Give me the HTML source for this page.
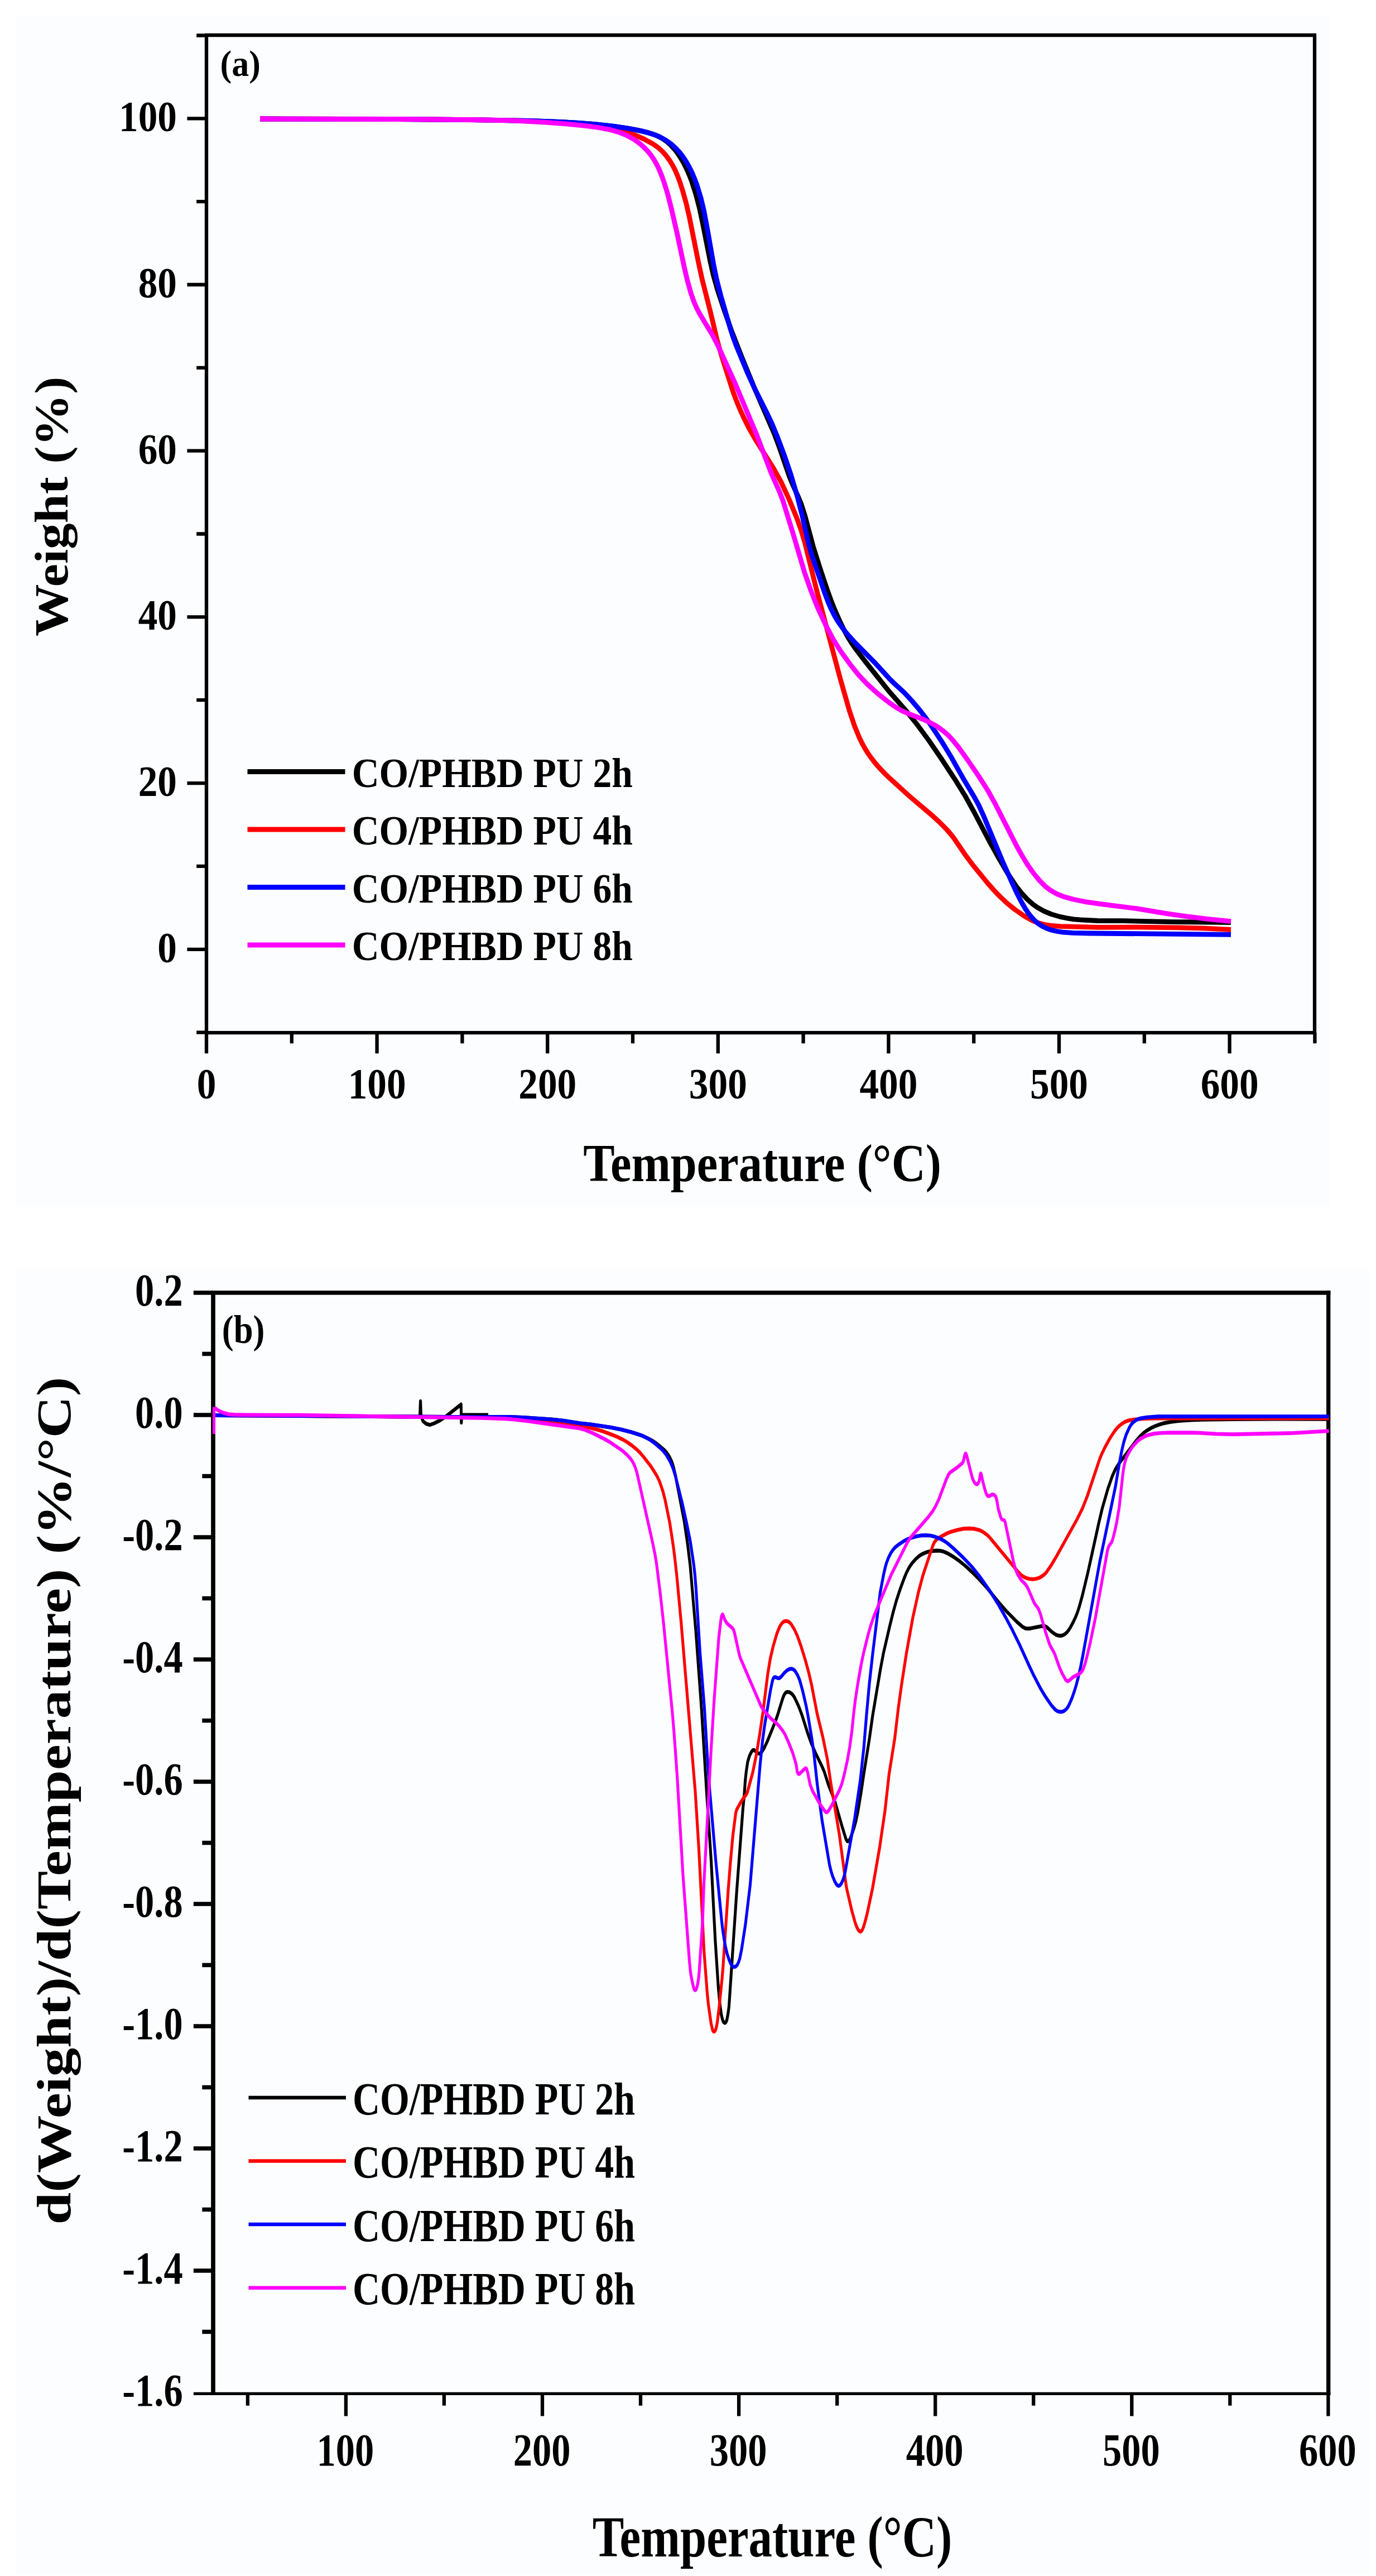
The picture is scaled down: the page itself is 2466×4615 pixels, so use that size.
<!DOCTYPE html>
<html><head><meta charset="utf-8"><title>TGA and DTG curves</title>
<style>
html,body{margin:0;padding:0;background:#ffffff;}
body{width:2466px;height:4615px;overflow:hidden;}
svg{display:block;}
svg text{font-family:"Liberation Serif", serif;font-weight:bold;font-size:100px;fill:#000;}
.ax{stroke:#000;fill:none;stroke-linecap:butt;}
.cv{fill:none;stroke-linejoin:round;stroke-linecap:butt;}
</style></head><body>
<svg width="2466" height="4615" viewBox="0 0 2466 4615">
<rect x="28" y="28" width="2356" height="2134" fill="#fcfdfe"/>
<rect x="28" y="2273" width="2427" height="2339" fill="#fcfdfe"/>
<g class="ax" stroke-width="6.3">
<path d="M370.0,59.85 V1853.3500000000001 M2356.0,59.85 V1853.3500000000001 M366.85,63.0 H2359.15 M366.85,1850.2 H2359.15"/>
<path d="M370.0,1850.2 v37 M522.8,1850.2 v19 M675.6,1850.2 v37 M828.4,1850.2 v19 M981.2,1850.2 v37 M1134.0,1850.2 v19 M1286.8,1850.2 v37 M1439.6,1850.2 v19 M1592.4,1850.2 v37 M1745.2,1850.2 v19 M1898.0,1850.2 v37 M2050.8,1850.2 v19 M2203.6,1850.2 v37 M2356.4,1850.2 v19 M370.0,63.5 h-17.8 M370.0,212.3 h-34.6 M370.0,361.1 h-17.8 M370.0,510.0 h-34.6 M370.0,658.8 h-17.8 M370.0,807.7 h-34.6 M370.0,956.5 h-17.8 M370.0,1105.4 h-34.6 M370.0,1254.2 h-17.8 M370.0,1403.1 h-34.6 M370.0,1551.9 h-17.8 M370.0,1700.8 h-34.6 M370.0,1849.6 h-17.8"/>
</g>
<text transform="translate(370.0,1968.0) scale(0.6930,0.7900)" text-anchor="middle">0</text>
<text transform="translate(675.6,1968.0) scale(0.6930,0.7900)" text-anchor="middle">100</text>
<text transform="translate(981.2,1968.0) scale(0.6930,0.7900)" text-anchor="middle">200</text>
<text transform="translate(1286.8,1968.0) scale(0.6930,0.7900)" text-anchor="middle">300</text>
<text transform="translate(1592.4,1968.0) scale(0.6930,0.7900)" text-anchor="middle">400</text>
<text transform="translate(1898.0,1968.0) scale(0.6930,0.7900)" text-anchor="middle">500</text>
<text transform="translate(2203.6,1968.0) scale(0.6930,0.7900)" text-anchor="middle">600</text>
<text transform="translate(317.0,235.3) scale(0.6930,0.7900)" text-anchor="end">100</text>
<text transform="translate(317.0,533.0) scale(0.6930,0.7900)" text-anchor="end">80</text>
<text transform="translate(317.0,830.7) scale(0.6930,0.7900)" text-anchor="end">60</text>
<text transform="translate(317.0,1128.4) scale(0.6930,0.7900)" text-anchor="end">40</text>
<text transform="translate(317.0,1426.1) scale(0.6930,0.7900)" text-anchor="end">20</text>
<text transform="translate(317.0,1723.8) scale(0.6930,0.7900)" text-anchor="end">0</text>
<text transform="translate(394.5,135.8) scale(0.6200,0.6550)" text-anchor="start">(a)</text>
<text transform="translate(1045.3,2115.5) scale(0.8450,0.9500)" text-anchor="start">Temperature (°C)</text>
<text transform="translate(120.6,1140.0) rotate(-90) scale(0.9360,0.8460)" text-anchor="start">Weight (%)</text>
<g transform="scale(1,1.0)">
<path class="cv" stroke="#000000" stroke-width="8.8" d="M466.0,213.0 L711.0,213.5 L842.0,214.6 L945.0,216.4 L990.0,217.9 L1029.9,219.8 L1060.9,222.1 L1094.7,225.6 L1121.4,229.4 L1146.0,233.9 L1162.5,237.9 L1175.6,242.4 L1187.0,248.2 L1196.7,255.0 L1202.5,260.4 L1208.5,266.9 L1214.6,274.8 L1220.0,283.1 L1225.5,292.6 L1230.4,302.4 L1235.3,313.4 L1239.6,324.6 L1246.9,347.4 L1253.7,373.5 L1259.7,401.9 L1273.1,469.6 L1278.7,493.9 L1285.5,518.0 L1298.4,556.9 L1311.0,592.7 L1328.8,638.4 L1352.7,696.7 L1387.4,776.5 L1396.5,800.8 L1415.1,854.7 L1420.4,867.6 L1431.1,891.3 L1435.6,902.4 L1442.6,924.2 L1457.9,981.2 L1470.0,1019.3 L1481.7,1054.4 L1489.1,1075.1 L1496.9,1094.6 L1505.9,1114.7 L1513.3,1130.0 L1520.0,1142.2 L1526.9,1153.2 L1535.6,1165.4 L1550.2,1184.5 L1593.8,1239.2 L1622.8,1272.2 L1641.1,1294.7 L1664.3,1326.0 L1686.9,1359.0 L1711.1,1395.8 L1729.0,1424.7 L1744.1,1451.8 L1772.4,1505.8 L1789.9,1537.3 L1806.6,1565.7 L1820.9,1587.4 L1830.8,1599.9 L1840.9,1610.9 L1850.5,1619.6 L1860.2,1626.4 L1871.5,1632.6 L1884.4,1637.9 L1898.7,1642.1 L1913.3,1645.2 L1924.2,1646.8 L1936.1,1647.9 L1967.1,1649.5 L2012.0,1649.6 L2101.0,1651.7 L2206.0,1652.5"/>
<path class="cv" stroke="#ff0000" stroke-width="8.8" d="M466.0,213.0 L724.1,213.6 L867.1,214.9 L910.1,215.7 L942.1,216.7 L978.0,218.4 L1014.0,220.7 L1039.9,223.0 L1063.7,226.1 L1102.1,232.4 L1121.6,236.7 L1137.7,241.9 L1154.2,249.1 L1169.0,257.2 L1175.6,261.6 L1181.1,265.8 L1187.6,271.9 L1194.2,279.3 L1200.0,287.3 L1205.2,295.8 L1210.2,305.6 L1214.5,315.6 L1219.0,327.8 L1223.3,341.1 L1229.5,363.3 L1235.4,388.6 L1251.3,468.0 L1258.3,500.3 L1273.3,559.4 L1284.6,607.1 L1293.0,636.9 L1313.7,701.7 L1319.6,717.6 L1326.5,734.3 L1334.0,750.6 L1342.1,766.7 L1355.0,789.2 L1386.9,840.1 L1399.9,863.7 L1414.6,895.5 L1428.6,929.7 L1435.9,950.4 L1442.2,971.5 L1463.2,1056.0 L1505.7,1215.4 L1522.2,1273.1 L1531.5,1300.6 L1540.2,1321.8 L1545.0,1331.7 L1549.8,1340.4 L1555.1,1348.9 L1560.8,1357.1 L1567.5,1365.8 L1575.3,1374.9 L1584.2,1384.3 L1594.2,1394.1 L1630.5,1427.0 L1671.7,1461.9 L1685.6,1474.8 L1696.1,1485.5 L1702.7,1493.0 L1708.9,1500.8 L1730.9,1532.9 L1744.8,1551.3 L1770.7,1583.0 L1781.4,1595.0 L1791.0,1605.1 L1804.8,1618.1 L1819.6,1630.0 L1836.0,1641.3 L1849.9,1649.1 L1860.9,1653.6 L1872.4,1656.6 L1885.1,1658.5 L1901.1,1659.6 L1968.0,1661.3 L2043.0,1661.1 L2110.1,1661.8 L2159.0,1663.2 L2206.0,1665.5"/>
<path class="cv" stroke="#0000ff" stroke-width="8.8" d="M466.0,213.0 L714.1,213.6 L850.1,214.7 L950.1,216.5 L996.1,218.2 L1035.1,220.1 L1067.0,222.6 L1100.8,226.4 L1127.5,230.4 L1151.0,235.0 L1167.4,239.4 L1181.3,244.7 L1192.7,250.8 L1203.9,258.9 L1210.5,264.9 L1217.3,272.2 L1223.4,280.0 L1229.5,289.1 L1234.9,298.6 L1239.8,308.4 L1244.5,319.5 L1249.0,331.6 L1256.0,354.6 L1261.6,377.9 L1268.4,414.3 L1279.1,475.4 L1284.6,501.8 L1292.1,530.9 L1309.7,591.4 L1314.4,605.6 L1320.0,620.6 L1338.7,665.9 L1351.9,695.0 L1375.2,741.5 L1383.3,758.7 L1392.5,780.9 L1405.5,815.5 L1417.7,851.5 L1428.8,888.9 L1438.0,924.8 L1448.9,973.6 L1453.7,990.9 L1478.5,1063.8 L1483.8,1077.8 L1488.9,1089.8 L1495.2,1102.2 L1501.8,1113.4 L1509.2,1124.1 L1517.8,1135.1 L1533.8,1152.9 L1569.7,1189.2 L1593.9,1215.8 L1601.7,1223.5 L1620.7,1241.1 L1633.7,1254.9 L1647.9,1271.7 L1659.0,1285.9 L1668.7,1299.8 L1687.5,1328.1 L1704.7,1356.3 L1727.8,1397.3 L1746.7,1429.0 L1753.8,1442.2 L1763.0,1462.2 L1798.4,1547.1 L1814.8,1583.6 L1822.8,1600.8 L1829.6,1614.2 L1836.0,1625.5 L1842.0,1634.7 L1848.0,1642.5 L1854.8,1649.7 L1861.6,1655.3 L1868.2,1659.6 L1876.1,1663.4 L1884.5,1666.3 L1894.2,1668.5 L1905.0,1670.1 L1922.9,1671.3 L1951.9,1672.0 L2206.0,1674.3"/>
<path class="cv" stroke="#ff00ff" stroke-width="8.8" d="M466.0,213.0 L710.1,213.5 L838.1,214.5 L916.1,215.9 L977.1,219.1 L1014.0,221.9 L1046.8,225.1 L1072.6,228.5 L1092.2,232.1 L1108.5,236.7 L1122.4,242.2 L1135.5,249.3 L1147.6,258.0 L1154.2,264.0 L1160.4,270.4 L1166.1,277.3 L1171.7,285.5 L1176.7,294.1 L1181.1,303.0 L1185.3,313.2 L1189.4,324.4 L1196.8,348.3 L1203.9,376.4 L1213.3,417.4 L1226.8,481.0 L1231.6,501.4 L1238.0,524.5 L1244.0,541.5 L1248.4,551.5 L1253.4,561.3 L1276.6,599.8 L1287.6,621.1 L1317.8,687.6 L1356.8,780.8 L1382.7,849.0 L1397.7,882.8 L1402.7,895.8 L1421.3,956.0 L1441.7,1025.1 L1453.6,1059.1 L1465.5,1088.8 L1480.6,1121.4 L1493.2,1145.3 L1506.5,1166.5 L1524.0,1190.8 L1539.0,1209.5 L1554.1,1225.5 L1572.6,1242.3 L1593.0,1258.4 L1606.9,1268.0 L1618.2,1274.3 L1628.2,1278.7 L1656.1,1289.4 L1666.1,1294.1 L1675.7,1299.3 L1684.0,1304.7 L1692.0,1310.7 L1699.4,1317.3 L1706.9,1325.2 L1718.2,1339.2 L1735.0,1362.8 L1755.3,1392.6 L1770.3,1416.2 L1783.9,1440.7 L1821.5,1514.7 L1832.2,1533.9 L1841.6,1549.3 L1852.5,1564.8 L1863.3,1577.9 L1873.1,1587.7 L1882.5,1594.9 L1893.6,1601.3 L1907.4,1606.8 L1923.8,1611.3 L1943.4,1615.3 L1971.1,1619.4 L2036.6,1627.7 L2091.8,1636.8 L2119.5,1640.8 L2163.2,1646.3 L2206.0,1650.7"/>
</g>
<path class="cv" stroke="#000000" stroke-width="9.0" d="M443.5,1382.6 H618.5"/>
<text transform="translate(630.7,1409.6) scale(0.6760,0.7500)" text-anchor="start">CO/PHBD PU 2h</text>
<path class="cv" stroke="#ff0000" stroke-width="9.0" d="M443.5,1486.0 H618.5"/>
<text transform="translate(630.7,1513.0) scale(0.6760,0.7500)" text-anchor="start">CO/PHBD PU 4h</text>
<path class="cv" stroke="#0000ff" stroke-width="9.0" d="M443.5,1589.5 H618.5"/>
<text transform="translate(630.7,1616.5) scale(0.6760,0.7500)" text-anchor="start">CO/PHBD PU 6h</text>
<path class="cv" stroke="#ff00ff" stroke-width="9.0" d="M443.5,1693.0 H618.5"/>
<text transform="translate(630.7,1720.0) scale(0.6760,0.7500)" text-anchor="start">CO/PHBD PU 8h</text>
<g class="ax" stroke-width="7.7">
<path d="M382.0,2312.15 V4290.900000000001 M378.15,2316.0 H2384.35"/>
<path d="M382.0,2316.0 h-35.2 M382.0,2425.5 h-19.7 M382.0,2535.0 h-35.2 M382.0,2644.5 h-19.7 M382.0,2754.0 h-35.2 M382.0,2863.5 h-19.7 M382.0,2973.0 h-35.2 M382.0,3082.5 h-19.7 M382.0,3192.0 h-35.2 M382.0,3301.5 h-19.7 M382.0,3411.0 h-35.2 M382.0,3520.5 h-19.7 M382.0,3630.0 h-35.2 M382.0,3739.5 h-19.7 M382.0,3849.0 h-35.2 M382.0,3958.5 h-19.7 M382.0,4068.0 h-35.2 M382.0,4177.5 h-19.7"/>
</g>
<path class="ax" stroke-width="7.3" d="M2380.7,2312.15 V4290.900000000001"/>
<path class="ax" stroke-width="5.2" d="M346.8,4288.3 H2384.35"/>
<path class="ax" stroke-width="6.3" d="M443.9,4288.3 V4309.7 M619.9,4288.3 V4328.4 M795.9,4288.3 V4309.7 M972.0,4288.3 V4328.4 M1148.0,4288.3 V4309.7 M1324.1,4288.3 V4328.4 M1500.2,4288.3 V4309.7 M1676.2,4288.3 V4328.4 M1852.2,4288.3 V4309.7 M2028.3,4288.3 V4328.4 M2204.3,4288.3 V4309.7 M2380.4,4288.3 V4328.4"/>
<text transform="translate(618.9,4417.0) scale(0.6850,0.8350)" text-anchor="middle">100</text>
<text transform="translate(971.0,4417.0) scale(0.6850,0.8350)" text-anchor="middle">200</text>
<text transform="translate(1323.1,4417.0) scale(0.6850,0.8350)" text-anchor="middle">300</text>
<text transform="translate(1675.2,4417.0) scale(0.6850,0.8350)" text-anchor="middle">400</text>
<text transform="translate(2027.3,4417.0) scale(0.6850,0.8350)" text-anchor="middle">500</text>
<text transform="translate(2379.4,4417.0) scale(0.6850,0.8350)" text-anchor="middle">600</text>
<text transform="translate(327.7,2339.0) scale(0.6850,0.8350)" text-anchor="end">0.2</text>
<text transform="translate(327.7,2558.0) scale(0.6850,0.8350)" text-anchor="end">0.0</text>
<text transform="translate(327.7,2777.0) scale(0.6850,0.8350)" text-anchor="end">-0.2</text>
<text transform="translate(327.7,2996.0) scale(0.6850,0.8350)" text-anchor="end">-0.4</text>
<text transform="translate(327.7,3215.0) scale(0.6850,0.8350)" text-anchor="end">-0.6</text>
<text transform="translate(327.7,3434.0) scale(0.6850,0.8350)" text-anchor="end">-0.8</text>
<text transform="translate(327.7,3653.0) scale(0.6850,0.8350)" text-anchor="end">-1.0</text>
<text transform="translate(327.7,3872.0) scale(0.6850,0.8350)" text-anchor="end">-1.2</text>
<text transform="translate(327.7,4091.0) scale(0.6850,0.8350)" text-anchor="end">-1.4</text>
<text transform="translate(327.7,4310.0) scale(0.6850,0.8350)" text-anchor="end">-1.6</text>
<text transform="translate(397.8,2405.7) scale(0.6270,0.7270)" text-anchor="start">(b)</text>
<text transform="translate(1061.8,4580.0) scale(0.8490,1.0350)" text-anchor="start">Temperature (°C)</text>
<text transform="translate(126.0,3985.5) rotate(-90) scale(1.0370,0.8770)" text-anchor="start">d(Weight)/d(Temperature) (%/°C)</text>
<g transform="scale(1,1.35)">
<path class="cv" stroke="#000000" stroke-width="5.1" d="M384.0,1878.1 L846.1,1880.6 L911.1,1880.3 L937.0,1881.0 L988.9,1883.7 L1008.8,1885.3 L1039.5,1888.8 L1058.3,1890.3 L1094.9,1894.3 L1114.5,1897.3 L1133.9,1901.0 L1150.0,1905.0 L1160.9,1908.7 L1168.8,1911.8 L1174.7,1914.7 L1181.8,1918.8 L1189.4,1923.6 L1194.3,1927.3 L1199.8,1933.4 L1204.1,1940.1 L1207.1,1947.2 L1210.7,1958.7 L1226.0,2017.6 L1232.3,2049.1 L1237.0,2077.8 L1247.3,2167.1 L1257.4,2269.9 L1267.1,2386.7 L1274.4,2468.0 L1281.8,2574.5 L1287.5,2638.9 L1290.1,2659.5 L1292.7,2673.4 L1294.2,2678.5 L1295.7,2682.0 L1297.1,2683.7 L1298.8,2684.5 L1300.0,2684.2 L1301.1,2683.4 L1302.8,2680.1 L1304.8,2672.1 L1306.4,2663.3 L1320.4,2508.8 L1331.5,2399.5 L1333.6,2384.0 L1335.6,2363.3 L1337.4,2350.8 L1339.9,2338.3 L1343.3,2329.8 L1346.9,2324.6 L1348.6,2323.0 L1349.9,2322.4 L1351.9,2322.6 L1357.5,2326.3 L1359.9,2327.1 L1361.5,2327.0 L1363.0,2326.4 L1366.2,2323.7 L1370.2,2318.7 L1374.9,2311.3 L1388.8,2285.9 L1393.5,2276.1 L1402.3,2254.9 L1405.1,2249.3 L1407.9,2246.4 L1409.4,2245.7 L1411.1,2245.3 L1414.8,2245.7 L1418.8,2247.6 L1421.5,2249.8 L1424.1,2252.9 L1431.3,2264.3 L1437.3,2276.1 L1447.2,2299.4 L1454.3,2314.0 L1461.0,2325.6 L1472.8,2343.6 L1477.2,2351.1 L1485.0,2369.4 L1492.2,2382.5 L1496.8,2392.2 L1509.0,2423.6 L1515.8,2439.8 L1516.9,2441.8 L1518.4,2443.3 L1519.5,2443.6 L1521.3,2442.9 L1522.8,2441.2 L1524.8,2437.9 L1530.4,2426.0 L1533.6,2417.4 L1537.2,2405.1 L1543.1,2378.8 L1547.8,2355.4 L1557.7,2309.3 L1564.0,2276.3 L1578.1,2214.1 L1583.1,2194.5 L1594.4,2158.4 L1600.6,2139.7 L1606.5,2124.0 L1612.4,2110.6 L1620.3,2094.6 L1624.9,2086.4 L1629.5,2079.9 L1634.6,2074.4 L1641.3,2068.9 L1647.2,2064.9 L1653.1,2062.2 L1660.5,2059.9 L1668.2,2058.5 L1677.2,2057.8 L1685.1,2058.0 L1691.0,2059.0 L1698.3,2061.4 L1709.4,2066.3 L1720.0,2071.9 L1731.5,2079.0 L1744.7,2088.1 L1756.6,2097.1 L1768.0,2106.5 L1792.0,2128.3 L1804.5,2138.9 L1822.8,2152.6 L1832.6,2158.9 L1837.8,2160.9 L1842.7,2161.3 L1847.6,2160.9 L1866.2,2158.1 L1872.1,2158.0 L1873.9,2158.4 L1876.4,2159.5 L1885.0,2165.6 L1892.3,2169.4 L1896.0,2170.4 L1898.9,2170.7 L1901.8,2170.7 L1904.7,2170.1 L1908.1,2168.8 L1911.8,2166.4 L1915.0,2163.5 L1918.2,2159.7 L1923.0,2153.2 L1927.2,2146.6 L1930.6,2140.4 L1933.8,2133.3 L1939.7,2117.6 L1949.7,2086.7 L1969.3,2020.8 L1975.5,2001.4 L1985.2,1976.4 L1993.0,1959.7 L1998.7,1950.2 L2004.4,1943.2 L2035.1,1913.1 L2042.9,1906.3 L2049.4,1901.7 L2055.9,1898.2 L2063.6,1894.8 L2069.9,1892.6 L2079.3,1890.1 L2087.0,1888.5 L2096.8,1887.1 L2107.7,1885.9 L2118.7,1885.2 L2134.6,1884.4 L2153.6,1884.0 L2209.6,1883.3 L2291.6,1883.0 L2381.7,1883.1"/>
<path class="cv" stroke="#000" stroke-width="5.1" d="M752.5,1878.9 L753.6,1859.6 L754.5,1878.5 L758.0,1885.9 L764.0,1889.6 L770.3,1890.9 L778.0,1888.9 L788.0,1885.2 L800.0,1879.3 L826.3,1863.7 L826.8,1887.9 L827.5,1877.8 L875.0,1877.8"/>
<path class="cv" stroke="#ff0000" stroke-width="5.1" d="M384.0,1878.1 L898.0,1881.0 L926.0,1881.4 L951.0,1882.8 L987.7,1885.8 L1020.4,1889.4 L1058.6,1894.9 L1070.2,1897.2 L1081.7,1899.8 L1094.9,1903.4 L1106.9,1907.1 L1115.9,1910.3 L1123.6,1913.6 L1131.8,1917.9 L1141.1,1923.5 L1146.8,1927.7 L1153.3,1933.3 L1166.2,1945.6 L1176.9,1958.1 L1181.7,1965.4 L1187.9,1978.7 L1191.9,1990.2 L1200.4,2021.4 L1206.3,2050.0 L1208.9,2064.7 L1213.0,2091.9 L1220.8,2153.9 L1246.0,2377.5 L1252.4,2452.9 L1261.8,2589.8 L1267.3,2643.7 L1269.5,2660.0 L1274.4,2685.6 L1276.9,2693.5 L1278.0,2695.3 L1279.5,2696.2 L1281.1,2695.6 L1282.7,2693.3 L1284.2,2689.0 L1285.6,2683.2 L1289.0,2662.6 L1294.1,2625.0 L1296.0,2608.0 L1305.0,2509.0 L1309.2,2469.8 L1313.4,2435.9 L1318.6,2405.8 L1320.2,2401.6 L1327.8,2391.3 L1332.2,2386.4 L1337.2,2381.9 L1339.1,2379.3 L1349.0,2352.2 L1355.4,2329.0 L1361.6,2301.2 L1367.4,2271.9 L1376.0,2221.1 L1380.4,2201.4 L1385.6,2184.8 L1392.3,2167.8 L1397.2,2158.9 L1399.8,2155.7 L1402.3,2153.4 L1404.5,2152.1 L1407.1,2151.3 L1409.9,2151.3 L1412.7,2152.0 L1415.1,2153.2 L1417.8,2155.3 L1423.6,2162.2 L1429.0,2170.9 L1435.4,2184.2 L1443.1,2202.6 L1449.4,2219.7 L1454.4,2235.6 L1464.4,2274.2 L1474.8,2305.8 L1482.8,2334.9 L1489.4,2368.6 L1504.2,2434.4 L1515.8,2499.0 L1517.6,2507.0 L1526.7,2535.9 L1532.6,2551.6 L1535.4,2557.1 L1538.0,2561.1 L1540.5,2563.0 L1542.6,2563.2 L1543.9,2562.6 L1545.0,2561.6 L1547.4,2557.6 L1550.3,2550.5 L1554.0,2539.8 L1563.6,2506.4 L1576.6,2451.0 L1586.1,2402.6 L1593.3,2354.7 L1603.5,2307.2 L1610.3,2264.5 L1616.3,2232.9 L1624.4,2194.2 L1635.7,2147.5 L1645.8,2113.5 L1654.0,2090.6 L1671.4,2051.9 L1674.2,2047.2 L1677.7,2043.6 L1683.2,2040.5 L1697.2,2034.8 L1704.6,2032.7 L1717.2,2030.1 L1727.0,2028.7 L1737.0,2028.3 L1746.9,2028.9 L1754.6,2030.4 L1759.1,2031.9 L1764.2,2034.2 L1769.0,2036.9 L1773.3,2040.0 L1824.3,2085.7 L1830.5,2090.5 L1836.3,2093.2 L1841.0,2094.6 L1844.8,2095.3 L1851.8,2095.7 L1855.7,2095.3 L1859.6,2094.6 L1863.3,2093.5 L1867.6,2091.7 L1871.5,2089.4 L1875.0,2086.8 L1883.5,2077.7 L1894.2,2064.3 L1930.6,2015.7 L1940.3,2001.1 L1948.7,1985.2 L1970.9,1936.0 L1974.7,1929.2 L1979.9,1921.2 L1989.5,1908.2 L1998.4,1898.3 L2002.2,1894.9 L2005.8,1892.3 L2010.4,1889.5 L2015.4,1887.1 L2021.9,1885.2 L2032.7,1883.8 L2050.6,1882.7 L2073.6,1882.2 L2381.7,1882.1"/>
<path class="cv" stroke="#0000ff" stroke-width="5.1" d="M384.0,1878.1 L846.0,1880.6 L911.1,1880.3 L936.0,1881.0 L986.9,1883.6 L1007.8,1885.2 L1039.4,1888.8 L1058.3,1890.3 L1093.9,1894.2 L1111.6,1896.8 L1131.0,1900.4 L1149.1,1904.7 L1155.5,1906.8 L1161.7,1909.2 L1167.5,1912.0 L1173.9,1915.6 L1182.3,1920.9 L1188.0,1925.0 L1194.3,1930.8 L1201.2,1939.8 L1205.9,1948.0 L1210.9,1960.0 L1222.3,1993.7 L1230.3,2020.5 L1237.2,2045.9 L1243.4,2076.7 L1245.3,2089.2 L1247.3,2107.7 L1254.5,2192.7 L1262.5,2267.3 L1267.7,2331.6 L1272.0,2376.7 L1283.1,2471.9 L1293.4,2549.3 L1295.1,2560.4 L1298.1,2575.0 L1300.5,2584.5 L1303.0,2592.4 L1306.3,2600.2 L1309.8,2606.3 L1312.6,2609.2 L1314.1,2609.9 L1315.8,2610.2 L1317.4,2610.0 L1319.0,2609.4 L1321.5,2607.3 L1323.6,2604.0 L1325.8,2599.0 L1329.1,2586.7 L1335.7,2555.2 L1344.4,2501.5 L1362.1,2342.8 L1366.5,2310.4 L1370.3,2289.8 L1380.6,2243.8 L1384.5,2230.0 L1385.9,2227.3 L1387.5,2225.9 L1389.6,2225.6 L1394.3,2227.1 L1396.7,2227.0 L1399.5,2225.4 L1406.0,2219.8 L1409.6,2217.2 L1414.6,2215.0 L1418.3,2214.5 L1421.8,2215.4 L1424.0,2216.8 L1425.8,2218.5 L1429.8,2223.6 L1433.2,2229.8 L1438.3,2243.3 L1444.6,2263.5 L1448.2,2277.4 L1455.1,2308.1 L1458.7,2327.1 L1464.6,2367.7 L1473.3,2416.1 L1486.6,2474.6 L1489.4,2483.2 L1492.4,2490.3 L1496.2,2497.1 L1499.2,2500.9 L1501.9,2502.5 L1503.5,2502.6 L1505.0,2502.1 L1507.4,2500.1 L1510.4,2495.4 L1512.9,2489.8 L1514.9,2483.3 L1531.7,2413.3 L1541.9,2362.0 L1548.1,2319.3 L1553.1,2274.2 L1558.2,2232.9 L1564.1,2193.9 L1577.5,2113.0 L1583.7,2089.0 L1586.6,2079.6 L1588.8,2073.9 L1592.4,2067.0 L1596.4,2061.1 L1600.3,2056.8 L1604.9,2052.9 L1611.2,2049.3 L1620.4,2044.8 L1626.7,2042.5 L1635.1,2040.3 L1643.8,2038.6 L1651.7,2037.6 L1659.7,2037.4 L1667.7,2037.9 L1674.5,2039.1 L1681.0,2040.8 L1688.3,2043.3 L1694.3,2046.0 L1699.9,2049.1 L1706.7,2053.4 L1725.6,2066.6 L1741.5,2079.0 L1757.1,2093.4 L1773.2,2110.4 L1789.7,2129.9 L1802.0,2146.0 L1814.2,2163.0 L1827.4,2182.9 L1844.0,2209.9 L1853.0,2223.9 L1864.5,2240.4 L1873.3,2251.2 L1884.0,2262.8 L1891.3,2268.9 L1894.5,2270.6 L1897.2,2271.4 L1901.0,2271.8 L1903.9,2271.5 L1907.4,2270.3 L1911.1,2268.0 L1914.1,2265.0 L1916.8,2261.0 L1921.1,2253.5 L1925.4,2244.4 L1928.9,2235.9 L1932.2,2226.6 L1936.6,2212.2 L1940.5,2197.6 L1971.0,2072.2 L1999.2,1972.2 L2005.6,1943.7 L2010.3,1925.5 L2014.2,1913.2 L2018.2,1904.0 L2023.9,1894.6 L2026.4,1891.4 L2028.8,1889.1 L2031.7,1887.0 L2035.6,1884.8 L2039.1,1883.4 L2042.9,1882.4 L2055.7,1880.8 L2075.6,1879.8 L2381.7,1879.7"/>
<path class="cv" stroke="#ff00ff" stroke-width="5.1" d="M384.5,1868.1 L391.7,1872.1 L399.9,1874.8 L409.6,1876.8 L420.5,1877.4 L439.5,1877.7 L536.5,1877.9 L862.5,1881.8 L905.5,1882.8 L921.4,1883.8 L945.3,1885.8 L1038.4,1895.4 L1046.1,1896.9 L1061.8,1901.7 L1084.2,1910.0 L1092.8,1913.7 L1115.9,1925.4 L1124.0,1930.9 L1130.0,1935.9 L1133.5,1939.5 L1136.7,1944.1 L1139.3,1948.9 L1141.8,1955.3 L1169.8,2047.9 L1174.1,2063.8 L1176.4,2074.1 L1183.5,2116.0 L1189.3,2155.0 L1204.8,2271.5 L1208.1,2300.2 L1213.6,2357.1 L1224.1,2489.5 L1235.7,2604.0 L1237.5,2617.3 L1239.7,2626.8 L1243.2,2638.3 L1244.3,2640.3 L1245.6,2641.0 L1246.3,2641.0 L1247.5,2640.1 L1249.5,2636.0 L1251.8,2626.5 L1253.0,2617.6 L1259.1,2549.6 L1261.3,2503.7 L1263.3,2475.6 L1274.6,2318.8 L1280.0,2254.5 L1288.1,2174.0 L1291.8,2150.4 L1293.0,2145.3 L1294.3,2142.7 L1294.8,2142.4 L1295.8,2142.9 L1298.6,2149.1 L1302.1,2153.5 L1304.8,2155.7 L1312.4,2160.5 L1314.7,2162.9 L1316.4,2167.1 L1324.6,2194.6 L1326.8,2200.3 L1363.9,2264.2 L1368.3,2269.2 L1376.6,2276.6 L1382.9,2281.4 L1392.0,2287.1 L1396.1,2290.4 L1402.2,2296.2 L1406.5,2301.2 L1413.5,2312.7 L1421.1,2327.2 L1426.8,2341.4 L1428.7,2350.9 L1430.0,2353.6 L1431.2,2354.3 L1432.7,2354.0 L1442.8,2347.0 L1444.3,2346.6 L1445.4,2347.2 L1447.2,2351.4 L1451.8,2368.1 L1456.5,2377.1 L1468.8,2393.2 L1472.5,2397.6 L1478.9,2404.1 L1480.5,2404.9 L1482.2,2404.9 L1483.6,2404.1 L1484.8,2403.0 L1491.0,2395.3 L1504.0,2376.1 L1508.4,2367.9 L1512.6,2356.4 L1518.6,2336.2 L1522.9,2317.9 L1526.8,2296.7 L1529.7,2275.3 L1532.8,2256.2 L1537.2,2234.9 L1543.0,2210.1 L1547.7,2193.4 L1555.7,2169.7 L1560.6,2156.9 L1566.8,2143.6 L1597.2,2089.6 L1625.9,2047.2 L1629.0,2043.4 L1633.2,2039.2 L1663.3,2013.5 L1671.2,2005.8 L1676.7,1998.8 L1681.9,1990.8 L1696.0,1963.1 L1699.7,1957.0 L1701.4,1955.2 L1703.5,1953.6 L1715.0,1947.7 L1724.9,1941.5 L1726.3,1939.6 L1729.0,1931.0 L1730.1,1929.1 L1731.0,1929.1 L1732.1,1930.9 L1742.2,1960.3 L1744.2,1964.5 L1746.1,1967.1 L1748.0,1968.8 L1749.4,1969.6 L1751.1,1969.6 L1753.1,1968.2 L1754.8,1965.6 L1757.0,1956.2 L1757.7,1955.4 L1758.0,1955.5 L1758.9,1957.3 L1761.3,1966.0 L1765.1,1976.7 L1766.9,1981.0 L1768.4,1983.7 L1770.3,1985.2 L1772.1,1985.5 L1773.8,1985.1 L1777.2,1983.6 L1780.0,1983.3 L1782.6,1984.2 L1784.8,1986.6 L1786.2,1990.1 L1789.1,2002.5 L1793.6,2013.9 L1795.4,2016.3 L1799.5,2017.4 L1800.6,2018.5 L1801.3,2019.9 L1816.6,2073.5 L1818.9,2080.0 L1821.2,2084.9 L1824.1,2089.6 L1828.7,2095.3 L1831.2,2097.6 L1837.5,2102.3 L1840.4,2105.4 L1843.5,2110.0 L1852.9,2126.3 L1855.0,2128.9 L1859.8,2133.6 L1861.7,2136.2 L1864.5,2141.7 L1873.8,2166.0 L1880.7,2181.4 L1882.7,2184.8 L1888.2,2191.9 L1890.3,2195.2 L1898.7,2212.7 L1903.5,2220.8 L1909.9,2229.2 L1911.9,2230.7 L1913.6,2231.1 L1916.1,2230.2 L1923.5,2225.3 L1933.4,2221.6 L1937.3,2219.4 L1939.2,2217.7 L1941.1,2215.1 L1944.8,2207.5 L1948.3,2197.4 L1954.0,2179.4 L1962.6,2148.9 L1984.9,2057.1 L1987.4,2051.5 L1992.1,2046.7 L1993.7,2044.0 L1997.5,2033.3 L2001.3,2020.2 L2005.9,1999.8 L2012.3,1956.3 L2013.7,1949.0 L2015.6,1941.7 L2018.8,1933.9 L2025.3,1924.7 L2029.7,1919.8 L2038.4,1912.7 L2042.2,1910.3 L2046.4,1908.3 L2051.7,1906.1 L2056.3,1904.8 L2069.9,1902.3 L2082.8,1901.6 L2097.8,1901.2 L2136.8,1901.3 L2150.8,1901.6 L2178.8,1902.9 L2209.8,1903.4 L2312.8,1901.9 L2381.7,1899.0"/>
<path class="cv" stroke="#ff00ff" stroke-width="5.1" d="M383.5,1903.0 V1867.4"/>
</g>
<path class="cv" stroke="#000000" stroke-width="6.6" d="M445.5,3758.0 H620"/>
<text transform="translate(632.0,3787.5) scale(0.6800,0.8300)" text-anchor="start">CO/PHBD PU 2h</text>
<path class="cv" stroke="#ff0000" stroke-width="6.6" d="M445.5,3871.5 H620"/>
<text transform="translate(632.0,3901.0) scale(0.6800,0.8300)" text-anchor="start">CO/PHBD PU 4h</text>
<path class="cv" stroke="#0000ff" stroke-width="6.6" d="M445.5,3985.0 H620"/>
<text transform="translate(632.0,4014.5) scale(0.6800,0.8300)" text-anchor="start">CO/PHBD PU 6h</text>
<path class="cv" stroke="#ff00ff" stroke-width="6.6" d="M445.5,4098.8 H620"/>
<text transform="translate(632.0,4128.3) scale(0.6800,0.8300)" text-anchor="start">CO/PHBD PU 8h</text>
</svg>
</body></html>
